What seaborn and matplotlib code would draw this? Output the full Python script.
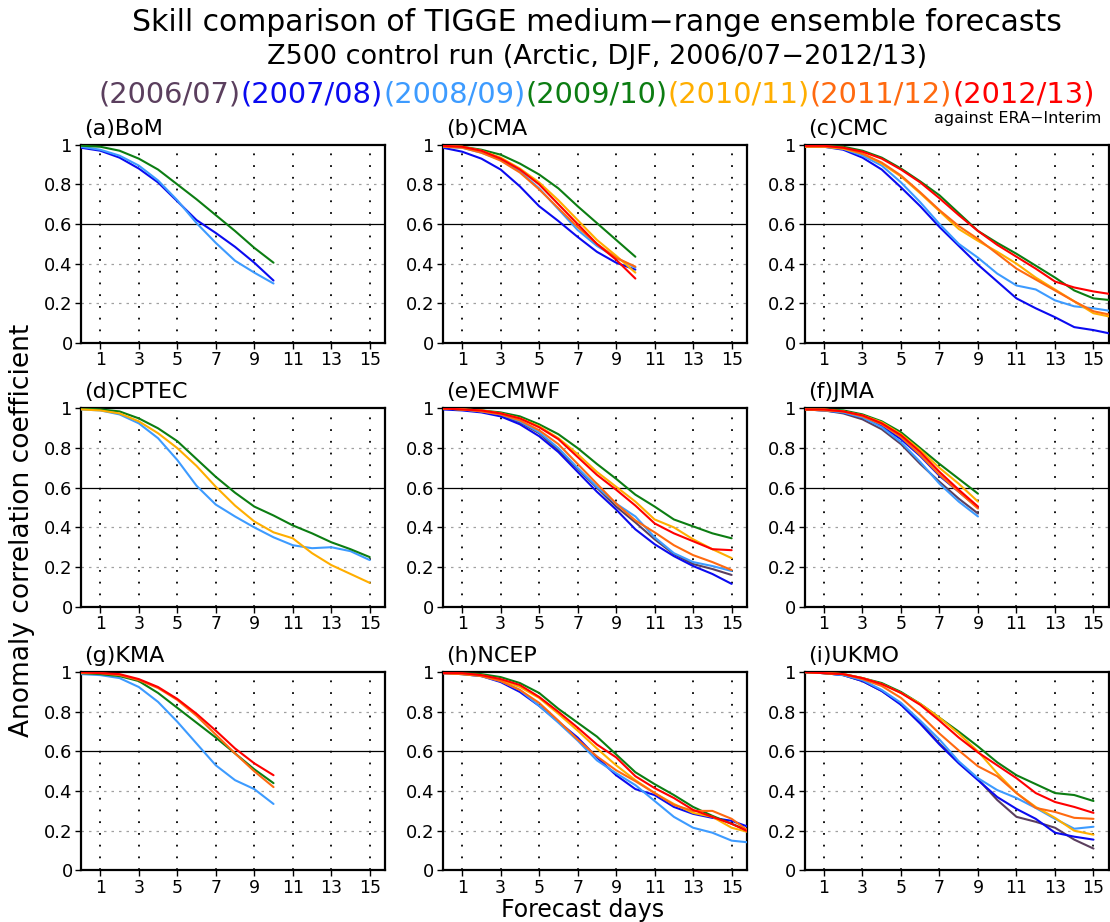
import seaborn as sns
import matplotlib.pyplot as plt

sns.set_style("white")
plt.rcParams['font.family'] = ['DejaVu Sans']
plt.rcParams['text.color'] = 'black'
plt.rcParams['xtick.color'] = 'black'
plt.rcParams['ytick.color'] = 'black'

# Season labels and line colours
seasons = ['2006/07', '2007/08', '2008/09', '2009/10', '2010/11', '2011/12', '2012/13']
season_colors = ['#5b3f5e', '#0a0af0', '#3d9bff', '#0c7d12', '#ffae00', '#ff6a10', '#ff0000']

centers = ['BoM', 'CMA', 'CMC', 'CPTEC', 'ECMWF', 'JMA', 'KMA', 'NCEP', 'UKMO']
panel_letters = ['a', 'b', 'c', 'd', 'e', 'f', 'g', 'h', 'i']

# (a) BoM, days 0-10
bom_0708 = [0.985, 0.97, 0.935, 0.88, 0.81, 0.715, 0.62, 0.555, 0.485, 0.405, 0.315]
bom_0809 = [0.99, 0.975, 0.945, 0.895, 0.82, 0.72, 0.605, 0.505, 0.415, 0.355, 0.30]
bom_0910 = [0.995, 0.99, 0.97, 0.93, 0.875, 0.80, 0.725, 0.645, 0.565, 0.48, 0.405]

# (b) CMA, days 0-10
cma_0708 = [0.985, 0.965, 0.93, 0.875, 0.79, 0.69, 0.615, 0.535, 0.46, 0.405, 0.37]
cma_0809 = [0.99, 0.985, 0.96, 0.925, 0.865, 0.78, 0.675, 0.57, 0.49, 0.43, 0.38]
cma_0910 = [0.995, 0.99, 0.975, 0.95, 0.905, 0.85, 0.78, 0.69, 0.605, 0.52, 0.435]
cma_1011 = [0.995, 0.99, 0.97, 0.935, 0.88, 0.81, 0.72, 0.62, 0.52, 0.44, 0.355]
cma_1112 = [0.99, 0.985, 0.96, 0.92, 0.86, 0.775, 0.68, 0.585, 0.50, 0.43, 0.385]
cma_1213 = [0.995, 0.99, 0.97, 0.93, 0.875, 0.80, 0.70, 0.60, 0.50, 0.42, 0.325]

# (c) CMC, days 0-16
cmc_0708 = [0.99, 0.99, 0.975, 0.935, 0.875, 0.785, 0.69, 0.585, 0.49, 0.395, 0.31, 0.225, 0.175, 0.13, 0.08, 0.065, 0.045]
cmc_0809 = [0.99, 0.99, 0.98, 0.945, 0.895, 0.81, 0.71, 0.60, 0.50, 0.43, 0.35, 0.29, 0.27, 0.215, 0.185, 0.175, 0.16]
cmc_0910 = [0.995, 0.995, 0.99, 0.97, 0.935, 0.88, 0.815, 0.745, 0.655, 0.565, 0.505, 0.45, 0.39, 0.33, 0.265, 0.225, 0.215]
cmc_1011 = [0.99, 0.99, 0.98, 0.955, 0.905, 0.84, 0.755, 0.665, 0.575, 0.515, 0.46, 0.40, 0.33, 0.27, 0.21, 0.15, 0.13]
cmc_1112 = [0.99, 0.99, 0.985, 0.955, 0.91, 0.845, 0.76, 0.67, 0.59, 0.525, 0.45, 0.375, 0.32, 0.265, 0.21, 0.16, 0.14]
cmc_1213 = [0.995, 0.995, 0.985, 0.965, 0.93, 0.875, 0.81, 0.73, 0.645, 0.565, 0.495, 0.435, 0.375, 0.31, 0.28, 0.26, 0.245]

# (d) CPTEC, days 0-15
cptec_0809 = [0.995, 0.99, 0.97, 0.925, 0.85, 0.74, 0.61, 0.515, 0.455, 0.40, 0.35, 0.31, 0.295, 0.30, 0.28, 0.235]
cptec_0910 = [1.0, 0.995, 0.985, 0.95, 0.90, 0.835, 0.745, 0.655, 0.575, 0.505, 0.46, 0.41, 0.37, 0.325, 0.29, 0.25]
cptec_1011 = [0.995, 0.99, 0.975, 0.935, 0.875, 0.80, 0.71, 0.605, 0.51, 0.43, 0.375, 0.345, 0.27, 0.21, 0.165, 0.12]

# (e) ECMWF, days 0-15
ecmwf_0607 = [1.0, 0.995, 0.985, 0.965, 0.93, 0.875, 0.79, 0.695, 0.60, 0.505, 0.425, 0.34, 0.265, 0.215, 0.19, 0.16]
ecmwf_0708 = [0.995, 0.99, 0.98, 0.96, 0.92, 0.86, 0.78, 0.68, 0.58, 0.49, 0.39, 0.315, 0.255, 0.205, 0.165, 0.115]
ecmwf_0809 = [1.0, 0.995, 0.985, 0.97, 0.935, 0.88, 0.80, 0.70, 0.605, 0.52, 0.455, 0.35, 0.27, 0.225, 0.205, 0.18]
ecmwf_0910 = [1.0, 0.995, 0.99, 0.98, 0.96, 0.92, 0.87, 0.80, 0.72, 0.645, 0.565, 0.505, 0.44, 0.405, 0.37, 0.345]
ecmwf_1011 = [1.0, 0.995, 0.99, 0.975, 0.95, 0.91, 0.85, 0.77, 0.68, 0.605, 0.53, 0.44, 0.40, 0.34, 0.29, 0.245]
ecmwf_1112 = [1.0, 0.995, 0.985, 0.97, 0.94, 0.89, 0.82, 0.72, 0.62, 0.52, 0.435, 0.375, 0.31, 0.26, 0.225, 0.185]
ecmwf_1213 = [1.0, 0.995, 0.99, 0.975, 0.95, 0.905, 0.845, 0.755, 0.665, 0.59, 0.51, 0.42, 0.37, 0.33, 0.29, 0.285]

# (f) JMA, days 0-9
jma_0607 = [0.995, 0.99, 0.975, 0.945, 0.895, 0.82, 0.72, 0.63, 0.545, 0.47]
jma_0708 = [0.995, 0.99, 0.98, 0.955, 0.91, 0.845, 0.76, 0.66, 0.58, 0.50]
jma_0809 = [0.995, 0.99, 0.98, 0.955, 0.905, 0.83, 0.73, 0.62, 0.53, 0.455]
jma_0910 = [0.995, 0.995, 0.99, 0.97, 0.935, 0.88, 0.80, 0.72, 0.645, 0.57]
jma_1011 = [0.995, 0.995, 0.985, 0.965, 0.93, 0.87, 0.79, 0.70, 0.62, 0.53]
jma_1112 = [0.995, 0.99, 0.985, 0.96, 0.92, 0.855, 0.765, 0.665, 0.58, 0.495]
jma_1213 = [0.995, 0.995, 0.985, 0.965, 0.925, 0.865, 0.78, 0.68, 0.59, 0.505]

# (g) KMA, days 0-10
kma_0809 = [0.99, 0.985, 0.97, 0.925, 0.85, 0.75, 0.64, 0.53, 0.455, 0.41, 0.335]
kma_0910 = [0.995, 0.99, 0.98, 0.955, 0.895, 0.82, 0.745, 0.67, 0.59, 0.51, 0.44]
kma_1112 = [0.995, 0.995, 0.985, 0.96, 0.92, 0.86, 0.78, 0.685, 0.59, 0.50, 0.42]
kma_1213 = [1.0, 0.995, 0.99, 0.965, 0.925, 0.865, 0.79, 0.705, 0.615, 0.54, 0.48]

# (h) NCEP, days 0-16
ncep_0708 = [0.995, 0.99, 0.98, 0.95, 0.90, 0.83, 0.75, 0.67, 0.57, 0.48, 0.41, 0.38, 0.32, 0.285, 0.265, 0.25, 0.215]
ncep_0809 = [0.995, 0.99, 0.98, 0.955, 0.91, 0.83, 0.745, 0.655, 0.555, 0.49, 0.43, 0.35, 0.27, 0.215, 0.19, 0.15, 0.14]
ncep_0910 = [1.0, 0.995, 0.99, 0.975, 0.945, 0.895, 0.815, 0.745, 0.675, 0.585, 0.495, 0.435, 0.38, 0.32, 0.275, 0.235, 0.195]
ncep_1011 = [0.995, 0.99, 0.985, 0.96, 0.925, 0.87, 0.79, 0.705, 0.615, 0.53, 0.455, 0.39, 0.335, 0.29, 0.27, 0.215, 0.19]
ncep_1112 = [0.995, 0.99, 0.98, 0.955, 0.91, 0.845, 0.755, 0.66, 0.575, 0.505, 0.45, 0.39, 0.33, 0.30, 0.30, 0.26, 0.19]
ncep_1213 = [0.995, 0.995, 0.985, 0.965, 0.935, 0.875, 0.80, 0.72, 0.635, 0.57, 0.475, 0.415, 0.365, 0.305, 0.27, 0.235, 0.19]

# (i) UKMO, days 0-15
ukmo_0607 = [1.0, 0.995, 0.985, 0.955, 0.905, 0.84, 0.745, 0.64, 0.545, 0.46, 0.355, 0.27, 0.245, 0.215, 0.155, 0.11]
ukmo_0708 = [1.0, 0.995, 0.985, 0.955, 0.905, 0.835, 0.74, 0.635, 0.54, 0.455, 0.37, 0.31, 0.26, 0.19, 0.17, 0.155]
ukmo_0809 = [1.0, 0.995, 0.985, 0.96, 0.91, 0.845, 0.755, 0.66, 0.55, 0.465, 0.405, 0.365, 0.315, 0.26, 0.21, 0.22]
ukmo_0910 = [1.0, 0.995, 0.99, 0.97, 0.945, 0.90, 0.84, 0.77, 0.70, 0.625, 0.545, 0.48, 0.435, 0.39, 0.38, 0.35]
ukmo_1011 = [1.0, 0.995, 0.99, 0.97, 0.94, 0.895, 0.84, 0.77, 0.69, 0.60, 0.49, 0.39, 0.32, 0.265, 0.20, 0.18]
ukmo_1112 = [1.0, 0.995, 0.99, 0.965, 0.93, 0.87, 0.785, 0.69, 0.605, 0.525, 0.475, 0.39, 0.315, 0.295, 0.265, 0.26]
ukmo_1213 = [1.0, 0.995, 0.99, 0.97, 0.94, 0.895, 0.835, 0.755, 0.67, 0.595, 0.53, 0.465, 0.39, 0.345, 0.32, 0.29]

# which seasons each centre has
center_data = {
    'BoM': {'2007/08': bom_0708, '2008/09': bom_0809, '2009/10': bom_0910},
    'CMA': {'2007/08': cma_0708, '2008/09': cma_0809, '2009/10': cma_0910,
            '2010/11': cma_1011, '2011/12': cma_1112, '2012/13': cma_1213},
    'CMC': {'2007/08': cmc_0708, '2008/09': cmc_0809, '2009/10': cmc_0910,
            '2010/11': cmc_1011, '2011/12': cmc_1112, '2012/13': cmc_1213},
    'CPTEC': {'2008/09': cptec_0809, '2009/10': cptec_0910, '2010/11': cptec_1011},
    'ECMWF': {'2006/07': ecmwf_0607, '2007/08': ecmwf_0708, '2008/09': ecmwf_0809,
              '2009/10': ecmwf_0910, '2010/11': ecmwf_1011, '2011/12': ecmwf_1112,
              '2012/13': ecmwf_1213},
    'JMA': {'2006/07': jma_0607, '2007/08': jma_0708, '2008/09': jma_0809,
            '2009/10': jma_0910, '2010/11': jma_1011, '2011/12': jma_1112,
            '2012/13': jma_1213},
    'KMA': {'2008/09': kma_0809, '2009/10': kma_0910, '2011/12': kma_1112, '2012/13': kma_1213},
    'NCEP': {'2007/08': ncep_0708, '2008/09': ncep_0809, '2009/10': ncep_0910,
             '2010/11': ncep_1011, '2011/12': ncep_1112, '2012/13': ncep_1213},
    'UKMO': {'2006/07': ukmo_0607, '2007/08': ukmo_0708, '2008/09': ukmo_0809,
             '2009/10': ukmo_0910, '2010/11': ukmo_1011, '2011/12': ukmo_1112,
             '2012/13': ukmo_1213},
}

x_ticks = [1, 3, 5, 7, 9, 11, 13, 15]
y_ticks = [0, 0.2, 0.4, 0.6, 0.8, 1.0]
y_tick_labels = ['0', '0.2', '0.4', '0.6', '0.8', '1']

fig = plt.figure(figsize=(11.1, 9.22), dpi=100)

col_left = [0.073, 0.399, 0.725]
row_bottom = [0.628, 0.342, 0.056]
ax_w, ax_h = 0.274, 0.215

for i, center in enumerate(centers):
    r, c = divmod(i, 3)
    ax = fig.add_axes([col_left[c], row_bottom[r], ax_w, ax_h])

    # reference lines
    for yv in [0.2, 0.4, 0.8]:
        ax.axhline(yv, color='#a0a0a0', ls=(0, (2, 4)), lw=0.9, zorder=1)
    ax.axhline(0.6, color='black', lw=0.9, zorder=1)
    for xv in x_ticks:
        ax.axvline(xv, color='black', ls=(0, (1, 5.5)), lw=1.3, zorder=1)

    for season, color in zip(seasons, season_colors):
        vals = center_data[center].get(season)
        if vals is None:
            continue
        sns.lineplot(x=list(range(len(vals))), y=vals, color=color, lw=1.5, ax=ax, zorder=3)

    ax.set_xlim(0, 15.8)
    ax.set_ylim(0, 1)
    ax.set_xticks(x_ticks)
    ax.set_xticklabels([str(t) for t in x_ticks], fontsize=12.5)
    ax.set_yticks(y_ticks)
    ax.set_yticklabels(y_tick_labels, fontsize=13)
    ax.tick_params(axis='both', direction='out', length=4, width=1, pad=2, color='black',
                   bottom=True, left=True)
    for sp in ax.spines.values():
        sp.set_linewidth(1.6)
        sp.set_color('black')
    ax.set_xlabel('')
    ax.set_ylabel('')
    ax.text(0.01, 1.03, f'({panel_letters[i]}){center}', transform=ax.transAxes,
            fontsize=16, ha='left', va='bottom')

fig.text(0.538, 0.976, 'Skill comparison of TIGGE medium\u2212range ensemble forecasts',
         ha='center', va='center', fontsize=21.5)
fig.text(0.538, 0.938, 'Z500 control run (Arctic, DJF, 2006/07\u22122012/13)',
         ha='center', va='center', fontsize=19.5)
fig.text(0.992, 0.871, 'against ERA\u2212Interim', ha='right', va='center', fontsize=11.5)

fig.text(0.525, 0.013, 'Forecast days', ha='center', va='center', fontsize=17)
fig.text(0.02, 0.425, 'Anomaly correlation coefficient', ha='center', va='center',
         rotation=90, fontsize=19)

# coloured season labels chained side by side
lax = fig.axes[0]
prev = fig.text(0.089, 0.897, f'({seasons[0]})', color=season_colors[0],
                ha='left', va='center', fontsize=20.8)
for season, color in zip(seasons[1:], season_colors[1:]):
    prev = lax.annotate(f'({season})', xy=(1, 0), xycoords=prev, color=color,
                        ha='left', va='bottom', fontsize=20.8, annotation_clip=False)

fig.savefig('out.png', dpi=100)
